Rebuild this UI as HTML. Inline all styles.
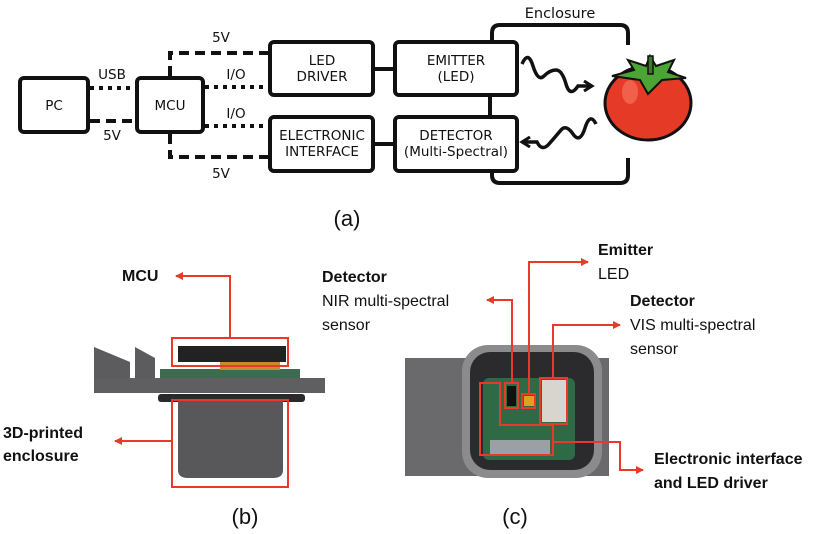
<!DOCTYPE html>
<html><head><meta charset="utf-8"><style>
html,body{margin:0;padding:0;background:#fff;}
svg{display:block;}
.t{font-family:"DejaVu Sans","Liberation Sans",sans-serif;font-size:13.5px;fill:#111;}
.c{font-family:"Liberation Sans",sans-serif;font-size:16px;fill:#111;}
.b{font-weight:bold;}
</style></head><body>
<svg width="820" height="534" viewBox="0 0 820 534" xmlns="http://www.w3.org/2000/svg">
<defs><marker id="ar" markerWidth="8" markerHeight="8" refX="7" refY="4" orient="auto" markerUnits="userSpaceOnUse"><path d="M0,0 L8,4 L0,8 Z" fill="#e8392a"/></marker>
<marker id="bk" markerWidth="12" markerHeight="12" refX="9" refY="6" orient="auto" markerUnits="userSpaceOnUse"><path d="M1,1 L9,6 L1,11" fill="none" stroke="#111" stroke-width="3"/></marker></defs>
<g fill="none" stroke="#111" stroke-width="4">
<rect x="20" y="78" width="68" height="54" rx="4"/>
<rect x="137" y="78" width="66" height="54" rx="4"/>
<rect x="270" y="42" width="103" height="53" rx="4"/>
<rect x="270" y="117" width="103" height="54" rx="4"/>
<path d="M492,42 V33 Q492,25 500,25 H620 Q628,25 628,33 V45"/>
<path d="M492,171 V175 Q492,183 500,183 H620 Q628,183 628,175 V158"/>
<line x1="373" y1="69" x2="395" y2="69"/>
<line x1="373" y1="144" x2="395" y2="144"/>
<line x1="490" y1="95" x2="490" y2="117"/>
<rect x="395" y="42" width="122" height="53" rx="4" fill="#fff"/>
<rect x="395" y="117" width="122" height="54" rx="4" fill="#fff"/>
<g stroke-dasharray="4,5"><line x1="90" y1="88" x2="137" y2="88"/><line x1="205" y1="87" x2="268" y2="87"/><line x1="205" y1="126" x2="268" y2="126"/></g>
<g stroke-dasharray="10,6"><line x1="90" y1="121" x2="137" y2="121"/><path d="M170,76 V53 H268"/><path d="M170,134 V157 H268"/></g>
<path d="M522,64 Q528,50 533,66 T544,76 T556,70 T566,84 T578,86 L592,86" marker-end="url(#bk)" stroke-width="3.5"/>
<path d="M596,124 Q590,112 585,128 T573,134 T561,130 T549,144 T537,142 L522,142" marker-end="url(#bk)" stroke-width="3.5"/>
</g>
<ellipse cx="648" cy="103" rx="43" ry="37" fill="#e53a26" stroke="#111" stroke-width="3"/>
<ellipse cx="630" cy="92" rx="8" ry="12" fill="#f0604a"/>
<path d="M612,76 L634,70 L628,60 L646,66 L650,56 L656,66 L674,60 L668,72 L686,78 L662,80 L648,94 L640,80 Z" fill="#4aa534" stroke="#111" stroke-width="2"/>
<rect x="648" y="56" width="5" height="18" fill="#3b7a2a" stroke="#111" stroke-width="1.5"/>
<g class="t" text-anchor="middle">
<text x="54" y="110">PC</text><text x="170" y="110">MCU</text>
<text x="322" y="65">LED</text><text x="322" y="81">DRIVER</text>
<text x="322" y="140">ELECTRONIC</text><text x="322" y="156">INTERFACE</text>
<text x="456" y="65">EMITTER</text><text x="456" y="81">(LED)</text>
<text x="456" y="140">DETECTOR</text><text x="456" y="156">(Multi-Spectral)</text>
<text x="112" y="79">USB</text><text x="112" y="140">5V</text>
<text x="221" y="42">5V</text><text x="221" y="178">5V</text>
<text x="236" y="79">I/O</text><text x="236" y="118">I/O</text>
<text x="560" y="18" style="font-size:14.5px">Enclosure</text>
</g>
<text x="347" y="226" class="c" style="font-size:22px" text-anchor="middle">(a)</text>
<text x="245" y="524" class="c" style="font-size:22px" text-anchor="middle">(b)</text>
<text x="515" y="524" class="c" style="font-size:22px" text-anchor="middle">(c)</text>
<path d="M94,347 L130,362 V378 H94Z" fill="#5c5c5e"/><path d="M135,347 L155,358 V378 H135Z" fill="#5c5c5e"/>
<rect x="160" y="369" width="140" height="9" fill="#3d6b4f"/>
<rect x="220" y="362" width="60" height="8" fill="#c98a2a"/>
<rect x="178" y="346" width="108" height="16" fill="#222"/>
<rect x="94" y="378" width="231" height="15" fill="#5f5f62"/>
<rect x="158" y="394" width="147" height="8" rx="3" fill="#2a2a2c"/>
<path d="M178,400 H283 V470 Q283,478 273,478 H188 Q178,478 178,470Z" fill="#58585b"/>
<g fill="none" stroke="#e8392a" stroke-width="2">
<rect x="172" y="338" width="116" height="28"/><rect x="172" y="400" width="116" height="87"/>
<path d="M230,338 V276 H176" marker-end="url(#ar)"/><path d="M172,441 H115" marker-end="url(#ar)"/>
</g>
<rect x="405" y="358" width="204" height="118" fill="#6a6a6c"/>
<rect x="462" y="345" width="140" height="133" rx="26" fill="#8b8b8e"/>
<rect x="470" y="352" width="124" height="118" rx="20" fill="#2b2b2e"/>
<rect x="483" y="378" width="92" height="82" rx="6" fill="#2f6a46"/>
<rect x="490" y="440" width="60" height="15" fill="#9aa0a4"/>
<rect x="542" y="380" width="24" height="42" fill="#d8d5cf"/>
<rect x="524" y="396" width="10" height="10" fill="#e0a020"/>
<rect x="507" y="386" width="9" height="20" fill="#111"/>
<g fill="none" stroke="#e8392a" stroke-width="2">
<path d="M480,383 H500 V425 H553 V455 H480Z"/>
<rect x="505" y="383" width="13" height="25"/><rect x="522" y="394" width="13" height="14"/><rect x="540" y="378" width="27" height="46"/>
<path d="M512,383 V300 H487" marker-end="url(#ar)"/>
<path d="M529,394 V262 H588" marker-end="url(#ar)"/>
<path d="M553,378 V325 H620" marker-end="url(#ar)"/>
<path d="M553,442 H620 V470 H643" marker-end="url(#ar)"/>
</g>
<g class="c">
<text x="122" y="281" class="b">MCU</text>
<text x="3" y="438" class="b">3D-printed</text><text x="3" y="461" class="b">enclosure</text>
<text x="322" y="282" class="b">Detector</text><text x="322" y="306">NIR multi-spectral</text><text x="322" y="330">sensor</text>
<text x="598" y="255" class="b">Emitter</text><text x="598" y="279">LED</text>
<text x="630" y="306" class="b">Detector</text><text x="630" y="330">VIS multi-spectral</text><text x="630" y="354">sensor</text>
<text x="654" y="464" class="b">Electronic interface</text><text x="654" y="488" class="b">and LED driver</text>
</g>
</svg>
</body></html>
